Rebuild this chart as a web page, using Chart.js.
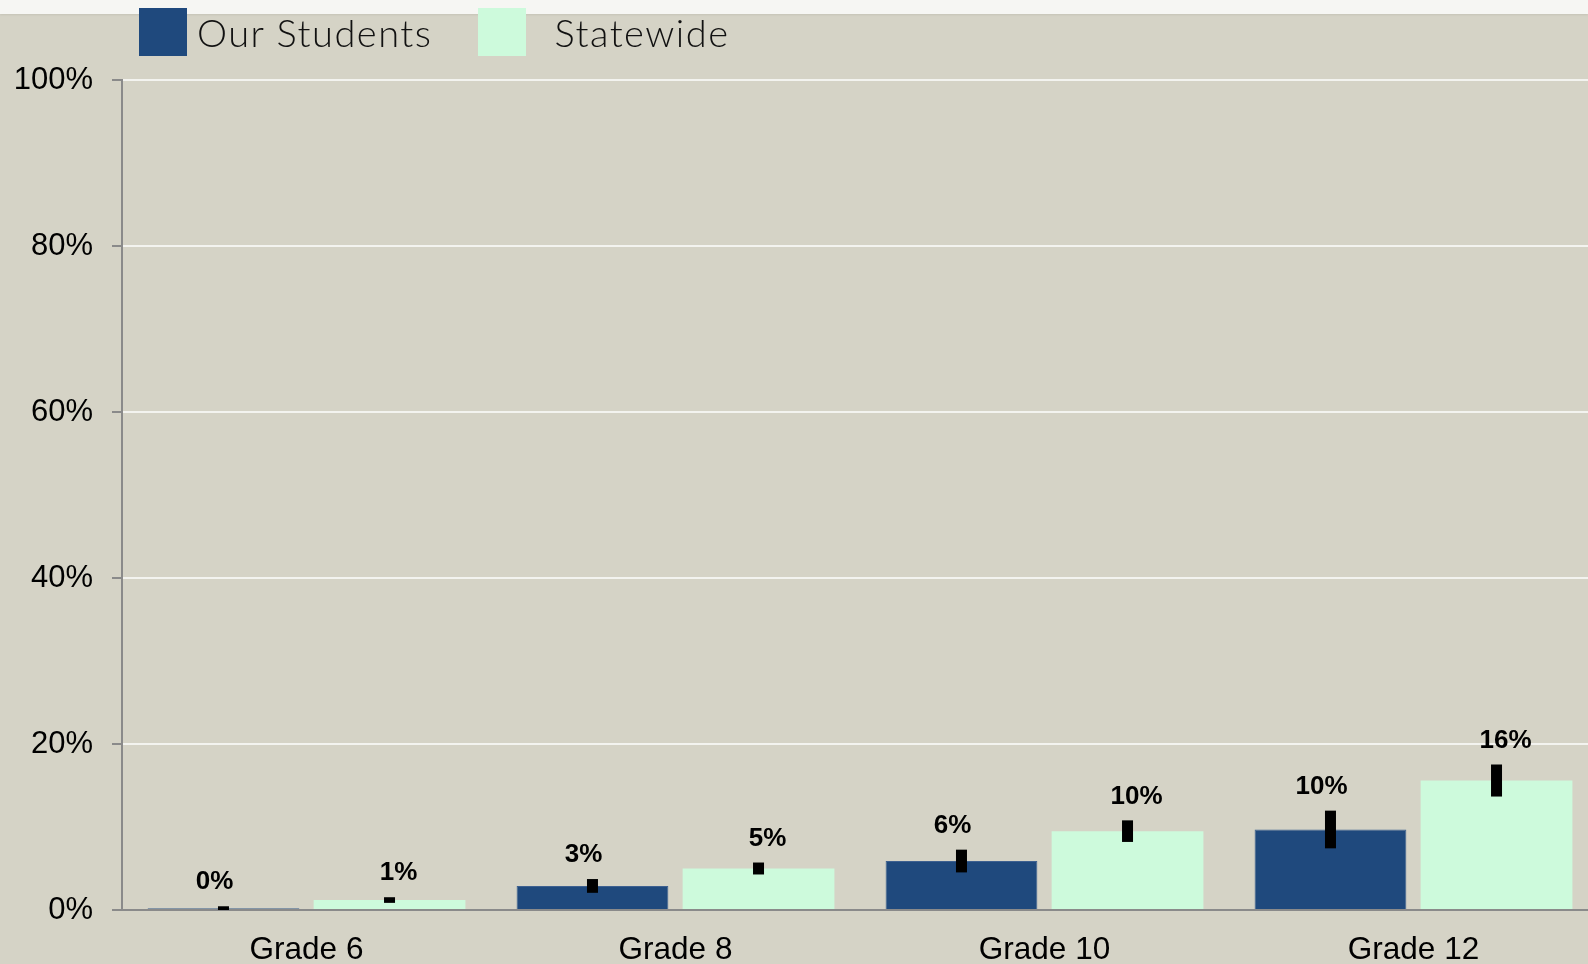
<!DOCTYPE html>
<html>
<head>
<meta charset="utf-8">
<script src="https://cdn.jsdelivr.net/npm/chart.js@4"></script>
<style>
  html, body { margin: 0; padding: 0; overflow: hidden; }
  body { width: 1588px; height: 964px; background: #d5d3c6; position: relative; }
  #topStrip { position: absolute; left: 0; top: 0; width: 100%; height: 14px; background: #f6f6f3; box-shadow: 0 1px 2px rgba(0,0,0,0.08); }
  #chartBox { position: absolute; left: 0; top: 0; width: 1600px; height: 964px; }
  #legend { position: absolute; left: 139px; top: 8px; display: flex; align-items: center; height: 48px; font-family: Lato, "Open Sans", sans-serif; font-weight: 300; font-size: 38px; letter-spacing: 1.5px; color: #111; }
  #legend .box { width: 48px; height: 48px; }
</style>
</head>
<body>
<div id="topStrip"></div>
<div id="chartBox"><canvas id="gradeChart"></canvas></div>
<div id="legend"></div>
<script>
console.log("Grade chart running");

let grades = ["Grade 6", "Grade 8", "Grade 10", "Grade 12"];
let ourStudents = [0.2, 2.9, 5.9, 9.7];
let statewide = [1.2, 5.0, 9.5, 15.6];
let ourErr = [0.25, 0.83, 1.37, 2.27];
let stateErr = [0.34, 0.72, 1.3, 1.93];
let yTicks = [0, 20, 40, 60, 80, 100];

let seriesNames = ["Our Students", "Statewide"];
let seriesColors = ["#1f497d", "#cdfadc"];

// black error bars and the bold value labels above them
const errorBarPlugin = {
    id: "errorBars",
    afterDatasetsDraw(chart) {
        let ctx = chart.ctx;
        let y = chart.scales.y;
        let errs = [ourErr, stateErr];
        let labelShift = [-9, 9];
        chart.data.datasets.forEach((ds, i) => {
            let meta = chart.getDatasetMeta(i);
            meta.data.forEach((bar, j) => {
                let v = ds.data[j];
                let e = errs[i][j];
                let top = y.getPixelForValue(v + e);
                let bottom = y.getPixelForValue(Math.max(v - e, 0));
                ctx.save();
                ctx.fillStyle = "#000";
                ctx.fillRect(bar.x - 5.5, top, 11, bottom - top);
                ctx.font = "bold 26px 'Liberation Sans', Arial, sans-serif";
                ctx.textAlign = "center";
                ctx.textBaseline = "middle";
                ctx.fillText(Math.round(v) + "%", bar.x + labelShift[i], top - 24);
                ctx.restore();
            });
        });
    }
};

let chart = new Chart(document.getElementById("gradeChart"), {
    type: "bar",
    data: {
        labels: grades,
        datasets: [{
            label: seriesNames[0],
            data: ourStudents,
            backgroundColor: seriesColors[0],
            borderColor: "#3d6090",
            borderWidth: 1,
            categoryPercentage: 0.9,
            barPercentage: 0.914
        }, {
            label: seriesNames[1],
            data: statewide,
            backgroundColor: seriesColors[1],
            borderWidth: 0,
            categoryPercentage: 0.9,
            barPercentage: 0.914
        }]
    },
    options: {
        responsive: true,
        maintainAspectRatio: false,
        animation: false,
        layout: { padding: { top: 80, left: 0, right: 2, bottom: 0 } },
        plugins: {
            legend: { display: false },
            tooltip: { enabled: false }
        },
        scales: {
            x: {
                grid: { display: false, drawTicks: false },
                border: { display: true, color: "#8a8a8a", width: 2 },
                ticks: {
                    color: "#000",
                    padding: 21,
                    font: { family: "'Liberation Sans', Arial, sans-serif", size: 31.5 }
                },
                afterFit(scale) { scale.height = 54; }
            },
            y: {
                min: 0,
                max: 100,
                afterBuildTicks(scale) { scale.ticks = yTicks.map(v => ({ value: v })); },
                grid: { color: "#f3f3ef", lineWidth: 2, tickColor: "#8a8a8a", tickLength: 10, tickWidth: 2 },
                border: { display: true, color: "#8a8a8a", width: 2 },
                ticks: {
                    color: "#000",
                    padding: 19,
                    font: { family: "'Liberation Sans', Arial, sans-serif", size: 31 },
                    callback: v => v + "%"
                },
                afterFit(scale) { scale.width = 122; }
            }
        }
    },
    plugins: [errorBarPlugin]
});

// html legend built from the datasets
let legend = document.getElementById("legend");
chart.data.datasets.forEach((ds, i) => {
    legend.innerHTML += `
        <div class="box" style="background:${ds.backgroundColor};margin-left:${i ? 46 : 0}px"></div>
        <div class="txt" style="margin-left:${i ? 28 : 10}px">${ds.label}</div>
    `;
});
</script>
</body>
</html>
